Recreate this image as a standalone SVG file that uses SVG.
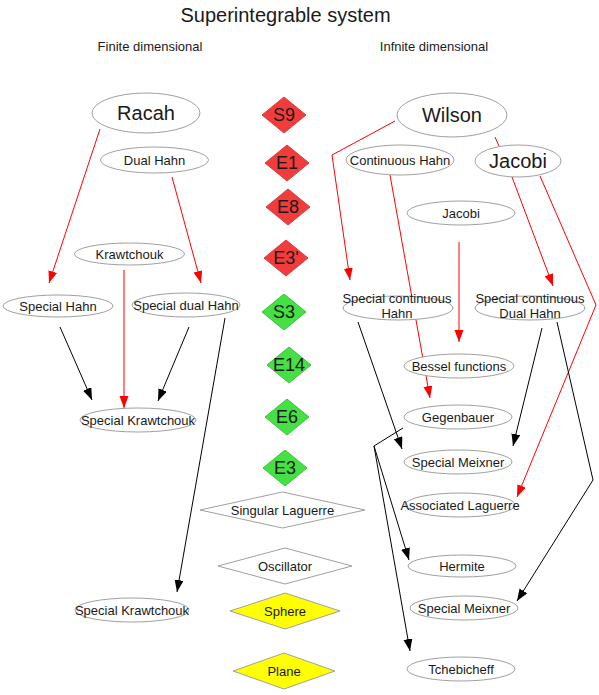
<svg xmlns="http://www.w3.org/2000/svg" width="599" height="695" viewBox="0 0 599 695">
<style>
text{font-family:"Liberation Sans",Arial,sans-serif;fill:#1a1a1a;text-anchor:middle}
.s{font-size:13px}
.b{font-size:20px}
.d{font-size:18px}
.el{fill:#fff;stroke:#a0a0a0;stroke-width:1}
.dr{fill:#f23c3c;stroke:#d04040;stroke-width:1}
.dg{fill:#44e044;stroke:#40c040;stroke-width:1}
.dw{fill:#fff;stroke:#a0a0a0;stroke-width:1}
.dy{fill:#ffff00;stroke:#a0a0a0;stroke-width:1}
.r{fill:none;stroke:#ff0000;stroke-width:1}
.k{fill:none;stroke:#000;stroke-width:1}
</style>
<defs>
<marker id="ar" markerUnits="userSpaceOnUse" markerWidth="13" markerHeight="10" refX="12" refY="4.5" orient="auto"><path d="M0,0 L12,4.5 L0,9 z" fill="#ff0000"/></marker>
<marker id="ak" markerUnits="userSpaceOnUse" markerWidth="13" markerHeight="10" refX="12" refY="4.5" orient="auto"><path d="M0,0 L12,4.5 L0,9 z" fill="#000"/></marker>
</defs>
<rect width="599" height="695" fill="#fff"/>
<g id="titles">
<text x="285.5" y="22" class="b">Superintegrable system</text>
<text x="150" y="51" class="s">Finite dimensional</text>
<text x="434" y="51" class="s">Infnite dimensional</text>
</g>
<g id="connectors">
<path class="r" d="M100,129 L49,283" marker-end="url(#ar)"/>
<path class="r" d="M172,177 L201,283" marker-end="url(#ar)"/>
<path class="r" d="M124,270 L124,408" marker-end="url(#ar)"/>
<path class="r" d="M395,121 L332,155 L350,280" marker-end="url(#ar)"/>
<path class="r" d="M495,137 L499,146"/>
<path class="r" d="M390,175 L430,398" marker-end="url(#ar)"/>
<path class="r" d="M459,242 L459,342" marker-end="url(#ar)"/>
<path class="r" d="M512,177 L553,286" marker-end="url(#ar)"/>
<path class="r" d="M540,176 L596,305 L517,497" marker-end="url(#ar)"/>
<path class="k" d="M60,327 L92,400" marker-end="url(#ak)"/>
<path class="k" d="M189,327 L158,401" marker-end="url(#ak)"/>
<path class="k" d="M225,318 L177,592" marker-end="url(#ak)"/>
<path class="k" d="M358,322 L402,449" marker-end="url(#ak)"/>
<path class="k" d="M542,328 L513,446" marker-end="url(#ak)"/>
<path class="k" d="M557,322 L593,480 L517,601" marker-end="url(#ak)"/>
<path class="k" d="M403,428 L374,446 L409,560" marker-end="url(#ak)"/>
<path class="k" d="M374,446 L410,651" marker-end="url(#ak)"/>
</g>
<g id="racah"><ellipse class="el" cx="146" cy="113" rx="54" ry="20"/><text x="146" y="120" class="b">Racah</text></g>
<g id="dual-hahn"><ellipse class="el" cx="154.5" cy="160" rx="54" ry="13"/><text x="154.5" y="165" class="s">Dual Hahn</text></g>
<g id="krawtchouk"><ellipse class="el" cx="129.5" cy="254" rx="55" ry="11"/><text x="129.5" y="259" class="s">Krawtchouk</text></g>
<g id="special-hahn"><ellipse class="el" cx="58" cy="306" rx="55" ry="11"/><text x="58" y="311" class="s">Special Hahn</text></g>
<g id="special-dual-hahn"><ellipse class="el" cx="186" cy="305" rx="54" ry="12"/><text x="186" y="310" class="s">Special dual Hahn</text></g>
<g id="special-krawtchouk-1"><ellipse class="el" cx="138" cy="420" rx="58" ry="12"/><text x="138" y="425" class="s">Special Krawtchouk</text></g>
<g id="special-krawtchouk-2"><ellipse class="el" cx="132" cy="610" rx="57" ry="12"/><text x="132" y="615" class="s">Special Krawtchouk</text></g>
<g id="s9"><polygon class="dr" points="284,97 306,115 284,133 262,115"/><text x="284" y="121" class="d">S9</text></g>
<g id="e1"><polygon class="dr" points="287,145 309,163 287,181 265,163"/><text x="287" y="169" class="d">E1</text></g>
<g id="e8"><polygon class="dr" points="288,189 310,207 288,225 266,207"/><text x="288" y="213" class="d">E8</text></g>
<g id="e3p"><polygon class="dr" points="286,240 308,258 286,276 264,258"/><text x="286" y="264" class="d">E3'</text></g>
<g id="s3"><polygon class="dg" points="284,294 306,312 284,330 262,312"/><text x="284" y="318" class="d">S3</text></g>
<g id="e14"><polygon class="dg" points="289,347 311,365 289,383 267,365"/><text x="289" y="371" class="d">E14</text></g>
<g id="e6"><polygon class="dg" points="287,399 309,417 287,435 265,417"/><text x="287" y="423" class="d">E6</text></g>
<g id="e3"><polygon class="dg" points="285,450 307,468 285,486 263,468"/><text x="285" y="474" class="d">E3</text></g>
<g id="singular-laguerre"><polygon class="dw" points="282.5,492 365,510 282.5,528 200,510"/><text x="282.5" y="515" class="s">Singular Laguerre</text></g>
<g id="oscillator"><polygon class="dw" points="285,548 352,566 285,584 218,566"/><text x="285" y="571" class="s">Oscillator</text></g>
<g id="sphere"><polygon class="dy" points="285,593 340,611 285,629 230,611"/><text x="285" y="616" class="s">Sphere</text></g>
<g id="plane"><polygon class="dy" points="284,653 335,671 284,689 233,671"/><text x="284" y="676" class="s">Plane</text></g>
<g id="wilson"><ellipse class="el" cx="452" cy="115" rx="55" ry="22"/><text x="452" y="122" class="b">Wilson</text></g>
<g id="continuous-hahn"><ellipse class="el" cx="400" cy="160" rx="54" ry="15"/><text x="400" y="165" class="s">Continuous Hahn</text></g>
<g id="jacobi-big"><ellipse class="el" cx="518" cy="161" rx="43" ry="16"/><text x="518" y="168" class="b">Jacobi</text></g>
<g id="jacobi-small"><ellipse class="el" cx="461" cy="213" rx="54" ry="12"/><text x="461" y="218" class="s">Jacobi</text></g>
<g id="special-continuous-hahn"><ellipse class="el" cx="398" cy="308" rx="55" ry="12"/><text x="397" y="303" class="s">Special continuous</text><text x="397" y="318" class="s">Hahn</text></g>
<g id="special-continuous-dual-hahn"><ellipse class="el" cx="530" cy="308" rx="55" ry="12"/><text x="530" y="303" class="s">Special continuous</text><text x="530" y="318" class="s">Dual Hahn</text></g>
<g id="bessel"><ellipse class="el" cx="459" cy="366" rx="55" ry="12"/><text x="459" y="371" class="s">Bessel functions</text></g>
<g id="gegenbauer"><ellipse class="el" cx="458" cy="417" rx="54" ry="12"/><text x="458" y="422" class="s">Gegenbauer</text></g>
<g id="special-meixner-1"><ellipse class="el" cx="458" cy="462" rx="54" ry="12"/><text x="458" y="467" class="s">Special Meixner</text></g>
<g id="associated-laguerre"><ellipse class="el" cx="460" cy="505" rx="55" ry="12"/><text x="460" y="510" class="s">Associated Laguerre</text></g>
<g id="hermite"><ellipse class="el" cx="462" cy="566" rx="54" ry="11"/><text x="462" y="571" class="s">Hermite</text></g>
<g id="special-meixner-2"><ellipse class="el" cx="464" cy="608" rx="54" ry="12"/><text x="464" y="613" class="s">Special Meixner</text></g>
<g id="tchebicheff"><ellipse class="el" cx="461" cy="669" rx="54" ry="12"/><text x="461" y="674" class="s">Tchebicheff</text></g>
</svg>
